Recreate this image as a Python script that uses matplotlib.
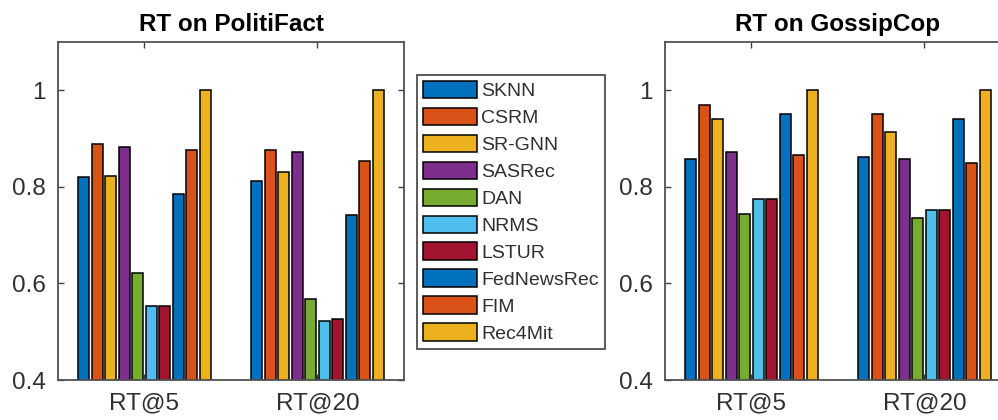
import numpy as np
import matplotlib
matplotlib.use('Agg')
import matplotlib.pyplot as plt
from matplotlib.ticker import FuncFormatter

plt.rcParams['font.family'] = ['Liberation Sans', 'DejaVu Sans']

# datos
metrics = ['RT@5', 'RT@20']
models = ['SKNN', 'CSRM', 'SR-GNN', 'SASRec', 'DAN', 'NRMS', 'LSTUR',
          'FedNewsRec', 'FIM', 'Rec4Mit']
colors = ['#0072BD', '#D95319', '#EDB120', '#7E2F8E', '#77AC30', '#4DBEEE',
          '#A2142F', '#0072BD', '#D95319', '#EDB120']

politifact_rt5 = [0.820, 0.888, 0.823, 0.883, 0.621, 0.553, 0.553, 0.786, 0.877, 1.0]
politifact_rt20 = [0.812, 0.877, 0.831, 0.872, 0.568, 0.523, 0.526, 0.741, 0.853, 1.0]
gossipcop_rt5 = [0.857, 0.969, 0.940, 0.872, 0.744, 0.774, 0.774, 0.951, 0.865, 1.0]
gossipcop_rt20 = [0.861, 0.951, 0.913, 0.857, 0.736, 0.752, 0.752, 0.940, 0.849, 1.0]

fig = plt.figure(figsize=(9.98, 4.2), dpi=100)
ax1 = fig.add_axes([0.0581, 0.0952, 0.3467, 0.8048])
ax2 = fig.add_axes([0.6663, 0.0952, 0.3467, 0.8048])

x = np.arange(1, len(metrics) + 1)
slot = 0.078
bw = 0.062


def draw(ax, vals5, vals20, title):
    data = np.array([vals5, vals20])
    for i in range(len(models)):
        off = (i - (len(models) - 1) / 2) * slot
        ax.bar(x + off, data[:, i], width=bw, bottom=0, color=colors[i],
               edgecolor='black', linewidth=1.1, label=models[i], zorder=2)
    ax.set_xlim(0.5, 2.5)
    ax.set_ylim(0.4, 1.1)
    ax.set_xticks(x)
    ax.set_xticklabels(metrics)
    ax.set_yticks([0.4, 0.6, 0.8, 1.0])
    ax.yaxis.set_major_formatter(FuncFormatter(lambda v, p: '%g' % v))
    ax.tick_params(direction='in', length=4, width=1, top=True, right=True,
                   labelsize=17.5, labelcolor='#303030', color='#404040', pad=9)
    for s in ax.spines.values():
        s.set_color('#505050')
        s.set_linewidth(1.3)
    ax.set_title(title, fontsize=17.5, fontweight='bold', pad=8)


draw(ax1, politifact_rt5, politifact_rt20, 'RT on PolitiFact')
draw(ax2, gossipcop_rt5, gossipcop_rt20, 'RT on GossipCop')

h, l = ax1.get_legend_handles_labels()
leg = fig.legend(h, l, loc='upper left', bbox_to_anchor=(417 / 998, 1 - 75 / 420),
                 fontsize=14, handlelength=2.8, handleheight=1.0, labelspacing=0.39,
                 handletextpad=0.2, borderpad=0.3, borderaxespad=0, fancybox=False,
                 framealpha=1, edgecolor='#404040')
leg.get_frame().set_linewidth(1.2)
for t in leg.get_texts():
    t.set_color('#303030')

fig.savefig('out.png', dpi=100)
